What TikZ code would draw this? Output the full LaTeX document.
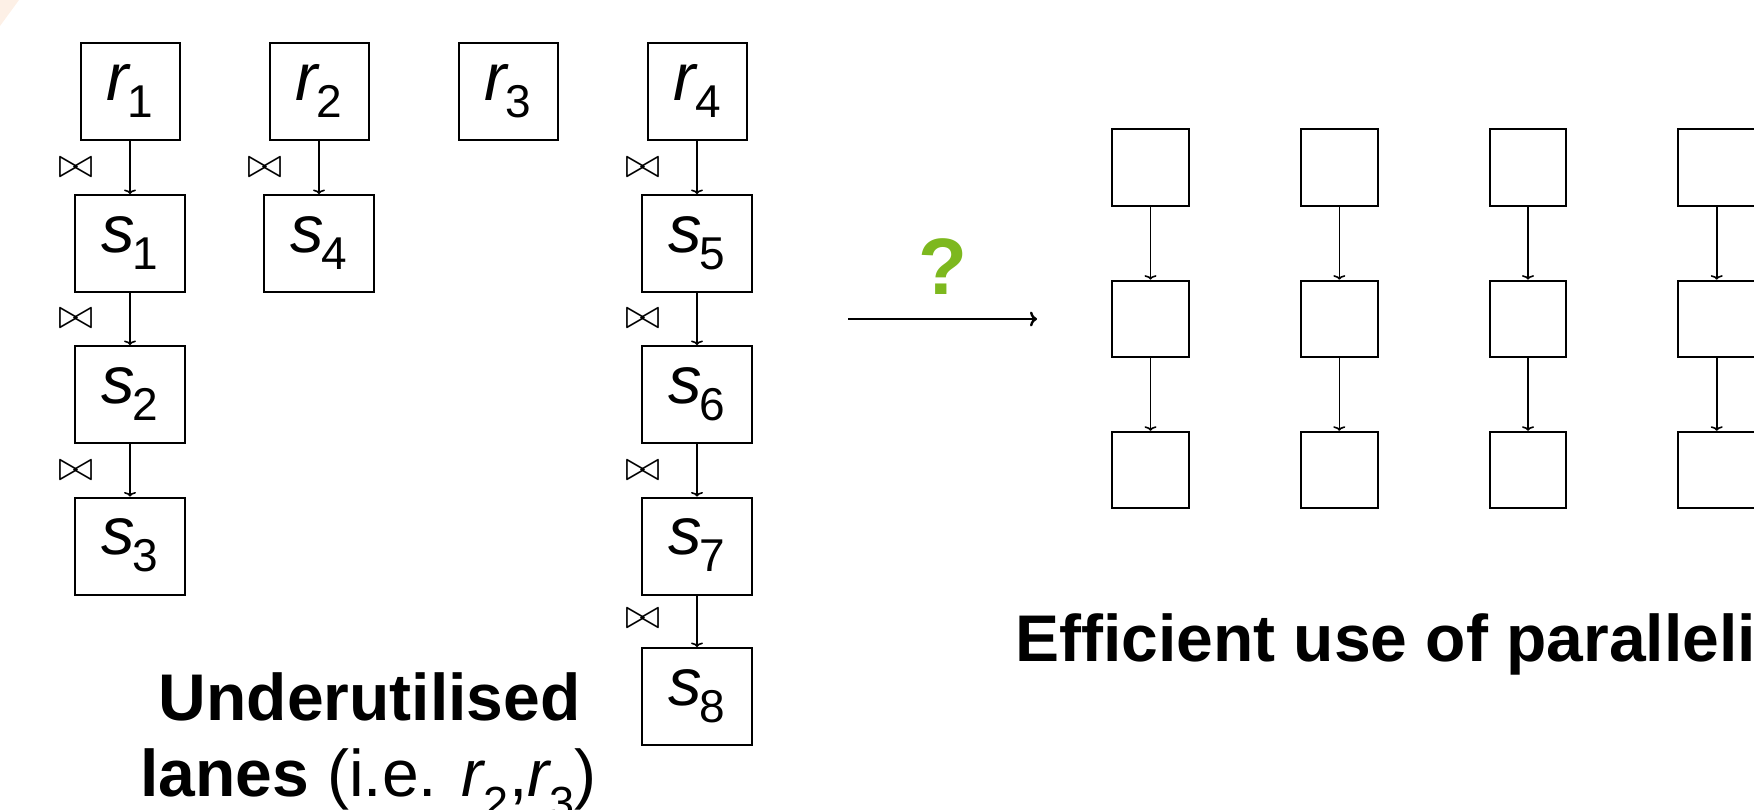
\documentclass[tikz,border=0pt]{standalone}
\usepackage{fontspec}
\setmainfont{Liberation Sans}
\usetikzlibrary{arrows.meta}
\definecolor{qgreen}{RGB}{125,184,30}
\definecolor{peach}{RGB}{253,240,230}
% italic letter with an upright lowered index (box labels)
\newcommand\subl[2]{\textit{#1}\kern-3pt\raisebox{-17pt}[0pt][0pt]{\fontsize{46}{46}\selectfont #2}}
% same for the running caption text
\newcommand\subt[2]{\textit{#1}\kern-2pt\raisebox{-22pt}[0pt][0pt]{\fontsize{45}{45}\selectfont #2}}
\begin{document}
\begin{tikzpicture}[x=1pt,y=-1pt,
  rbox/.style={draw, line width=2pt, minimum width=99pt, minimum height=97pt,
    inner sep=0pt, text height=35pt, text depth=18pt, font=\fontsize{67}{67}\selectfont},
  sbox/.style={rbox, minimum width=110pt},
  lanebox/.style={draw, line width=2pt, minimum size=76.5pt, inner sep=0pt},
  joinsym/.style={inner sep=0pt},
  flow/.style={line width=1.6pt, -{To[length=4.5pt,width=12pt]}},
  bigtext/.style={font=\fontsize{66}{66}\selectfont, anchor=base west, inner sep=0pt}]
\useasboundingbox (0,0) rectangle (1754,809);
\fill[peach] (0,0) -- (19,0) -- (0,26) -- cycle;

% relations and their join chains
\node[rbox] (r1) at (130,91.5) {\subl{r}{1}};
\node[rbox] (r2) at (319,91.5) {\subl{r}{2}};
\node[rbox] (r3) at (508,91.5) {\subl{r}{3}};
\node[rbox] (r4) at (697,91.5) {\subl{r}{4}};
\node[sbox] (s1) at (130,243.5) {\subl{s}{1}};
\node[sbox] (s2) at (130,394.5) {\subl{s}{2}};
\node[sbox] (s3) at (130,546) {\subl{s}{3}};
\node[sbox] (s4) at (319,243.5) {\subl{s}{4}};
\node[sbox] (s5) at (697,243.5) {\subl{s}{5}};
\node[sbox] (s6) at (697,394.5) {\subl{s}{6}};
\node[sbox] (s7) at (697,546) {\subl{s}{7}};
\node[sbox] (s8) at (697,696.5) {\subl{s}{8}};

\foreach \a/\b in {r1/s1,s1/s2,s2/s3,r2/s4,r4/s5,s5/s6,s6/s7,s7/s8}
  \draw[flow] (\a.south) -- (\b.north);

% join operators beside the arrows
\foreach \n/\x/\y in {j1/75.5/167.5, j2/75.5/319, j3/75.5/470.5, j4/264.5/167.5,
                      j5/642.5/167.5, j6/642.5/319, j7/642.5/470.5, j8/642.5/619}
  \node[joinsym] (\n) at (\x,\y) {\scalebox{4.2}{$\bowtie$}};

\node[bigtext] (u1) at (158.5,720.7) {\textbf{Underutilised}};
\node[bigtext] (u2) at (140,796.7) {\textbf{lanes} (i.e. \subt{r}{2},\subt{r}{3})};

% transformation arrow
\coordinate (ta) at (848,319);
\coordinate (tb) at (1037,319);
\draw[line width=2.4pt, -{To[length=7pt,width=15pt]}] (ta) -- (tb);
\node[font=\fontsize{80}{80}\selectfont\bfseries, text=qgreen, inner sep=0pt] (q) at (943,266.5) {?};

% balanced lanes
\foreach \c/\x in {1/1150.5,2/1339.3,3/1528,4/1716.7}{
  \node[lanebox] (p\c a) at (\x,167.7) {};
  \node[lanebox] (p\c b) at (\x,318.9) {};
  \node[lanebox] (p\c c) at (\x,470) {};
  \draw[flow] (p\c a.south) -- (p\c b.north);
  \draw[flow] (p\c b.south) -- (p\c c.north);
}
\node[bigtext] (eff) at (1015,661) {\textbf{Efficient use of paralleli}};
\end{tikzpicture}
\end{document}
